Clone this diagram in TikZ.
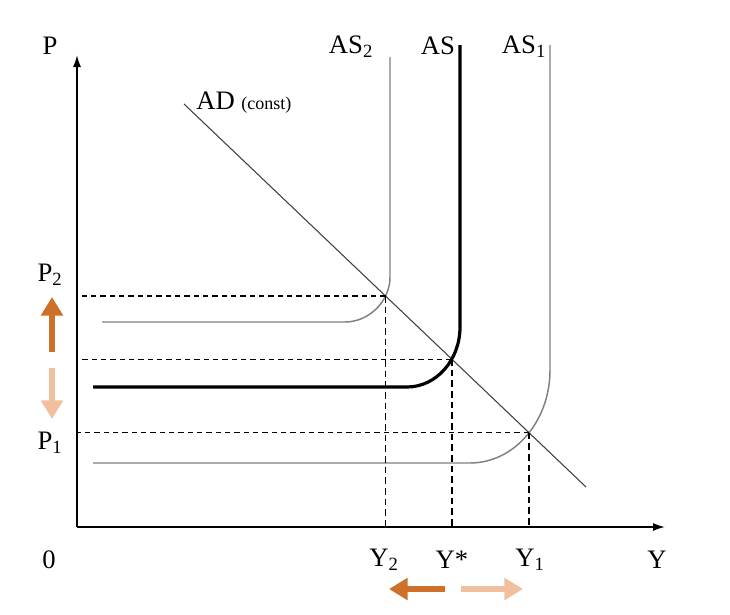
\documentclass[tikz,border=0pt]{standalone}
\usepackage{fontspec}
\setmainfont{Liberation Serif}
\usetikzlibrary{arrows.meta,intersections}
\definecolor{darkor}{RGB}{204,112,42}
\definecolor{lightor}{RGB}{240,192,158}
\definecolor{curvegray}{RGB}{128,128,128}
\begin{document}
\begin{tikzpicture}[x=0.75pt,y=-0.75pt,
  lab/.style={font=\fontsize{20}{23}\selectfont, inner sep=0pt},
  axis/.style={line width=1.3pt, -{Latex[length=9pt,width=6pt]}},
  thincurve/.style={curvegray, line width=1.1pt},
  thickcurve/.style={black, line width=2.4pt},
  guide/.style={black, line width=0.8pt, dash pattern=on 4pt off 3pt},
  vguide/.style={black, line width=1.1pt, dash pattern=on 5pt off 3pt},
  shift arrow/.style={line width=4.2pt, -{Triangle[length=14pt,width=16pt]}}]
\useasboundingbox (0,0) rectangle (730,614);
% axes
\coordinate (O) at (77,527);
\coordinate (ytop) at (77,55);
\coordinate (xend) at (665,527);
\draw[axis] (O) -- (ytop);
\draw[axis] (O) -- (xend);
% AD line
\coordinate (ADa) at (184,104);
\coordinate (ADb) at (586,487);
\draw[name path=AD, black!75, line width=0.8pt] (ADa) -- (ADb);
% AS2
\draw[name path=AS2, thincurve] (390,57) -- (390,277)
  .. controls (390,301.8) and (368.5,322) .. (345,322) -- (102,322);
% AS
\draw[name path=AS, thickcurve] (460,45) -- (460,327)
  .. controls (460,360.1) and (436.3,387) .. (407,387) -- (93,387);
% AS1
\draw[name path=AS1, thincurve] (550,45) -- (550,370)
  .. controls (550,421.4) and (514.2,463) .. (470,463) -- (93,463);
% intersections
\path[name intersections={of=AD and AS2, by=E2}];
\path[name intersections={of=AD and AS, by=E}];
\path[name intersections={of=AD and AS1, by=E1}];
\draw[guide] (E2) -- (E2 -| O);
\draw[vguide] (E2) -- (E2 |- O);
\draw[guide] (E) -- (E -| O);
\draw[vguide] (E) -- (E |- O);
\draw[guide] (E1) -- (E1 -| O);
\draw[vguide] (E1) -- (E1 |- O);
% labels
\node[lab] (Plab) at (50,46) {P};
\node[lab] (zero) at (49,560) {0};
\node[lab] (Ylab) at (657,560) {Y};
\node[lab] (P2) at (50,275) {P\textsubscript{2}};
\node[lab] (P1) at (50,443) {P\textsubscript{1}};
\node[lab] (Y2) at (384,560) {Y\textsubscript{2}};
\node[lab] (Ystar) at (452,560) {Y*};
\node[lab] (Y1) at (530,560) {Y\textsubscript{1}};
\node[lab] (AS2lab) at (351,47) {AS\textsubscript{2}};
\node[lab] (ASlab) at (438,46) {AS};
\node[lab] (AS1lab) at (524,47) {AS\textsubscript{1}};
\node[lab, anchor=west] (ADlab) at (196,103) {AD {\fontsize{13.5}{15}\selectfont (const)}};
% shift arrows
\coordinate (pu0) at (52,352);
\coordinate (pu1) at (52,297);
\coordinate (pd0) at (52,368);
\coordinate (pd1) at (52,419);
\coordinate (yl0) at (445,589);
\coordinate (yl1) at (389,589);
\coordinate (yr0) at (461,589);
\coordinate (yr1) at (523,589);
\draw[shift arrow, darkor] (pu0) -- (pu1);
\draw[shift arrow, lightor] (pd0) -- (pd1);
\draw[shift arrow, darkor] (yl0) -- (yl1);
\draw[shift arrow, lightor] (yr0) -- (yr1);
\end{tikzpicture}
\end{document}
